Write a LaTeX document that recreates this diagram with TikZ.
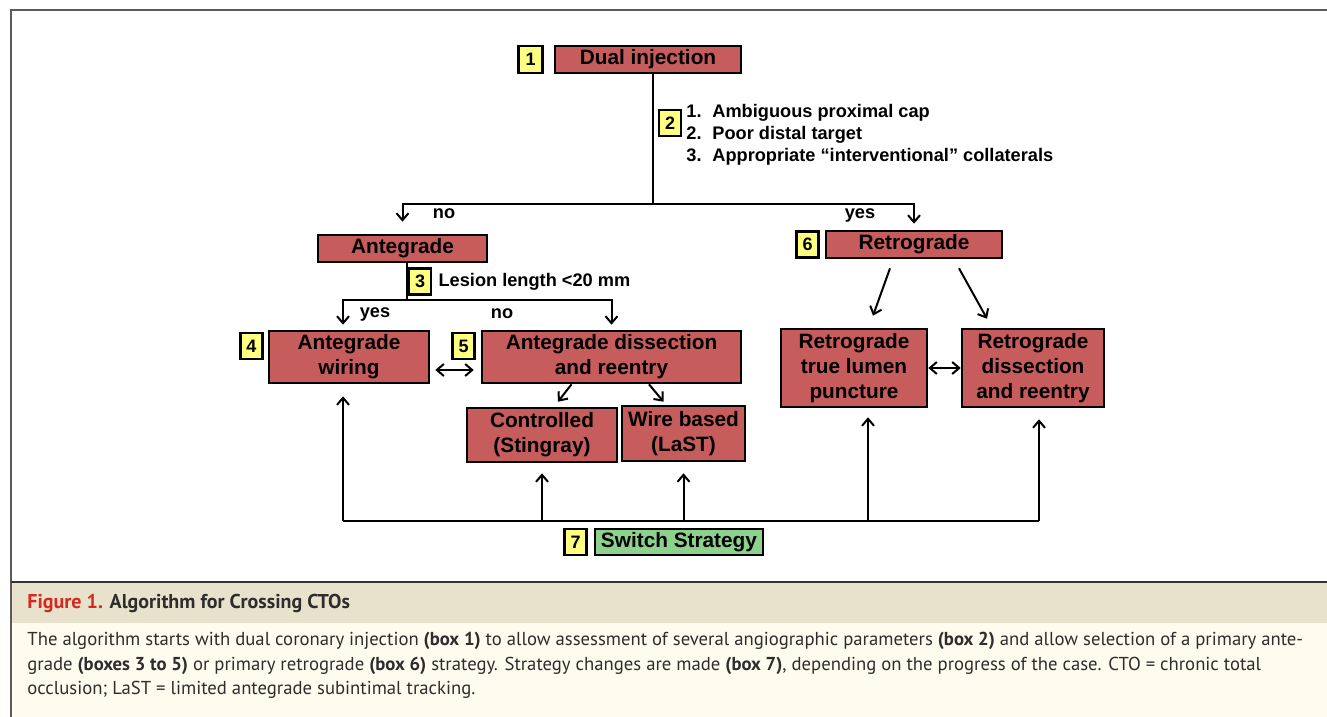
\documentclass[tikz,border=0pt]{standalone}
\usepackage{fontspec}
\setmainfont{Liberation Sans}
\newfontfamily\capfont{PT Sans}
\usepackage{xcolor}
\usepackage{tikz}
\usetikzlibrary{arrows.meta,positioning}

\definecolor{boxred}{RGB}{198,92,92}
\definecolor{tagyellow}{RGB}{255,255,128}
\definecolor{switchgreen}{RGB}{140,210,140}
\definecolor{bandtitle}{RGB}{232,225,204}
\definecolor{bandbody}{RGB}{254,252,238}
\definecolor{figred}{RGB}{214,40,30}
\definecolor{framegray}{RGB}{90,90,90}
\definecolor{captext}{RGB}{45,45,45}

\begin{document}
\begin{tikzpicture}[
    x=0.5pt, y=-0.5pt,
    >={Straight Barb[length=3.5pt,width=6pt]},
    stage/.style={rectangle, draw, fill=boxred, line width=1.3pt, inner sep=1pt, align=center,
        font=\bfseries\fontsize{10.4}{12.5}\selectfont},
    tag/.style={rectangle, draw, fill=tagyellow, line width=1.2pt, inner sep=0pt,
        minimum width=11pt, minimum height=13pt, font=\bfseries\fontsize{9}{10}\selectfont},
    note/.style={inner sep=0pt, align=left, font=\bfseries\fontsize{9.1}{11}\selectfont},
    link/.style={line width=1pt}
]
    \useasboundingbox (0,0) rectangle (1327,717);

    % Frame and caption bands
    \fill[bandtitle] (11,583) rectangle (1327,623);
    \fill[bandbody] (11,623) rectangle (1327,717);
    \draw[framegray, line width=0.9pt] (11,717) -- (11,10) -- (1327,10);
    \draw[black!80, line width=1.1pt] (11,582) -- (1327,582);

    % Start
    \node[stage, minimum width=93pt, minimum height=13.5pt] (dual) at (648,59.5) {Dual injection};
    \node[tag, minimum width=12pt, minimum height=13.5pt, left=5pt of dual] (t1) {1};

    % Criteria
    \node[tag] (t2) at (670,123) {2};
    \node[note, anchor=west] (crit) at (686,135) {
        \makebox[13pt][l]{1.}Ambiguous proximal cap\\
        \makebox[13pt][l]{2.}Poor distal target\\
        \makebox[13pt][l]{3.}Appropriate “interventional” collaterals
    };

    % Primary strategy
    \node[stage, minimum width=84.5pt, minimum height=13.5pt] (ante) at (402.5,248.5) {Antegrade};
    \node[stage, minimum width=88pt, minimum height=13.5pt] (retro) at (914,244.5) {Retrograde};
    \node[tag, left=2.5pt of retro] (t6) {6};

    \coordinate (fork) at (653,204);
    \draw[link] (dual.south -| fork) -- (fork);
    \draw[->, link, shorten >=6pt] (fork) -| (ante.north);
    \draw[->, link, shorten >=3pt] (fork) -| (retro.north);
    \node[note] (no1) at (444,214) {no};
    \node[note] (yes1) at (860,215) {yes};

    % Antegrade branch
    \node[tag] (t3) at (420,281.5) {3};
    \node[note, right=3pt of t3] (lesion) {Lesion length <20 mm};

    \node[stage, minimum width=80pt, minimum height=26pt] (wiring) at (349,357) {Antegrade\\wiring};
    \node[stage, minimum width=129.5pt, minimum height=26pt] (dissect) at (611.5,357) {Antegrade dissection\\and reentry};
    \node[tag, anchor=north east] (t4) at ([xshift=-2pt,yshift=-1pt]wiring.north west) {4};
    \node[tag, anchor=north east] (t5) at ([xshift=-2.5pt,yshift=-1pt]dissect.north west) {5};

    \coordinate (fork2) at (407,300);
    \draw[link] (ante.south -| fork2) -- (fork2);
    \draw[->, link, shorten >=2.5pt] (fork2) -| ([xshift=-3pt]wiring.north);
    \draw[->, link, shorten >=2.5pt] (fork2) -| (dissect.north);
    \node[note] (yes2) at (375,314) {yes};
    \node[note] (no2) at (502,314) {no};
    \draw[<->, link] ([xshift=2.5pt,yshift=-6.5pt]wiring.east) -- ([xshift=-3.5pt,yshift=-6.5pt]dissect.west);

    \node[stage, minimum width=75pt, minimum height=27pt] (ctrl) at (542,435) {Controlled\\(Stingray)};
    \node[stage, minimum width=61.5pt, minimum height=27.5pt] (wire) at (683.5,433.5) {Wire based\\(LaST)};
    \draw[->, link] ([xshift=-20pt]dissect.south) -- ([xshift=8pt,yshift=2.5pt]ctrl.north);
    \draw[->, link] ([xshift=18.75pt]dissect.south) -- ([xshift=-10pt,yshift=1.5pt]wire.north);

    % Retrograde branch
    \node[stage, minimum width=73pt, minimum height=39pt] (rtl) at (854,368) {Retrograde\\true lumen\\puncture};
    \node[stage, minimum width=71pt, minimum height=39pt] (rdr) at (1033,368) {Retrograde\\dissection\\and reentry};
    \draw[->, link] ([xshift=-12pt,yshift=-4.5pt]retro.south) -- ([xshift=9.5pt,yshift=6pt]rtl.north);
    \draw[->, link] ([xshift=22.5pt,yshift=-4.5pt]retro.south) -- ([xshift=-23pt,yshift=4.5pt]rdr.north);
    \draw[<->, link] (rtl) -- (rdr);

    % Switch strategy
    \node[stage, fill=switchgreen, minimum width=84pt, minimum height=13pt] (switch) at (679,542) {Switch Strategy};
    \node[tag, left=3pt of switch] (t7) {7};

    \coordinate (busL) at (343,521);
    \coordinate (busR) at (1039,521);
    \coordinate (busM) at (868,521);
    \draw[link] (busL) -- (busR);
    \draw[->, link, shorten >=6pt] (busL) -- (busL |- wiring.south);
    \draw[->, link, shorten >=5pt] (ctrl.south |- busL) -- (ctrl.south);
    \draw[->, link, shorten >=5.5pt] (wire.south |- busL) -- (wire.south);
    \draw[->, link, shorten >=4.5pt] (busM) -- (busM |- rtl.south);
    \draw[->, link, shorten >=5.5pt] (busR) -- (busR |- rdr.south);

    % Caption
    \node[anchor=west, inner sep=0pt, text=captext, font=\capfont\bfseries\fontsize{10}{12}\selectfont] (figtitle) at (27,603)
        {\textcolor{figred}{Figure 1.} Algorithm for Crossing CTOs};
    \node[anchor=north west, inner sep=0pt, align=left, text=captext, font=\capfont\fontsize{9.35}{12.25}\selectfont] (figtext) at (27,632)
        {The algorithm starts with dual coronary injection \textbf{(box 1)} to allow assessment of several angiographic parameters \textbf{(box 2)} and allow selection of a primary ante-\\
         grade \textbf{(boxes 3 to 5)} or primary retrograde \textbf{(box 6)} strategy. Strategy changes are made \textbf{(box 7)}, depending on the progress of the case. CTO = chronic total\\
         occlusion; LaST = limited antegrade subintimal tracking.};
\end{tikzpicture}
\end{document}
